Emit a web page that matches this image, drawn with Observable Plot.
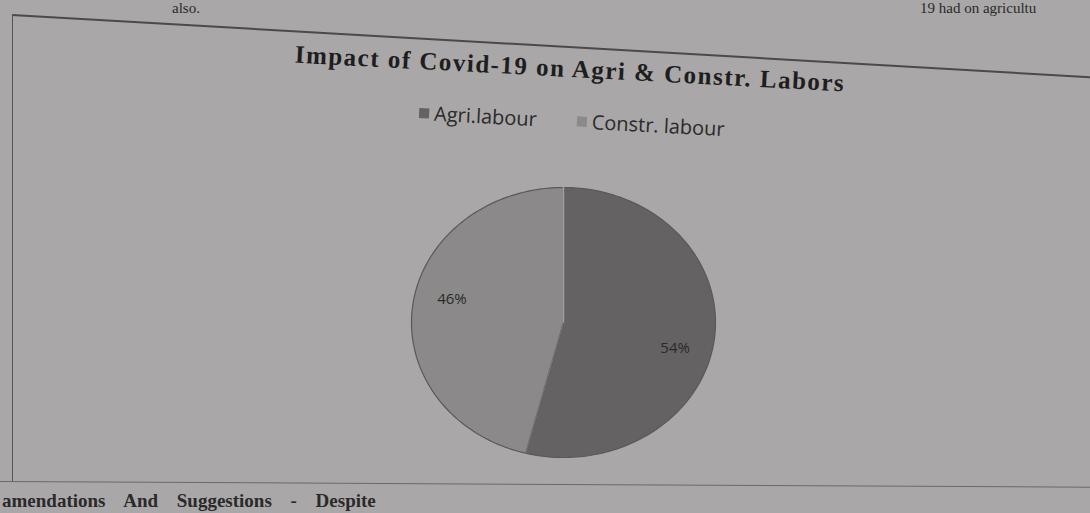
<!DOCTYPE html>
<html>
<head>
<meta charset="utf-8">
<script src="https://cdn.jsdelivr.net/npm/d3@7"></script>
<script src="https://cdn.jsdelivr.net/npm/@observablehq/plot@0.6"></script>
<style>
  html, body { margin: 0; padding: 0; }
  body { width: 1090px; height: 513px; overflow: hidden; background: #a9a7a7; position: relative; font-family: "Liberation Serif", serif; }
  .pagetext { position: absolute; font-family: "Liberation Serif", serif; color: #2a2a2a; white-space: nowrap; line-height: 1; }
  .frame-top { position: absolute; left: 12px; top: 14px; width: 1100px; height: 0; border-top: 2px solid #4a4a4a; transform-origin: 0 0; transform: rotate(3.3deg); }
  .frame-left { position: absolute; left: 12px; top: 14px; width: 0; height: 468px; border-left: 1.5px solid #555; }
  .frame-bottom { position: absolute; left: 0; top: 481px; width: 1100px; height: 0; border-top: 1.5px solid #6a6a6a; transform-origin: 0 0; transform: rotate(0.3deg); }
  #title { position: absolute; left: 0; top: 55px; width: 1140px; text-align: center; font-family: "Liberation Serif", serif; font-weight: bold; font-size: 25px; letter-spacing: 1.5px; color: #1e1e1e; transform-origin: 570px 15px; transform: rotate(3deg); }
  #legend { position: absolute; left: 0; top: 107px; width: 1144px; display: flex; justify-content: center; gap: 40px; font-family: "Open Sans", sans-serif; font-size: 20px; color: #2a2a2a; transform-origin: 570px 12px; transform: rotate(3deg); }
  #legend span.sw { display: inline-block; width: 10px; height: 10px; margin-right: 5px; vertical-align: 2px; }
  #chart { position: absolute; left: 0; top: 150px; }
</style>
</head>
<body>
<div class="pagetext" style="left:172px; top:1px; font-size:15px;">also.</div>
<div class="pagetext" style="left:920px; top:1px; font-size:15px;">19 had on agricultu</div>
<div class="pagetext" style="left:2px; top:491px; font-size:19px; font-weight:bold; word-spacing:14px;">amendations And Suggestions - Despite</div>
<div class="frame-top"></div>
<div class="frame-left"></div>
<div class="frame-bottom"></div>
<div id="title">Impact of Covid-19 on Agri &amp; Constr. Labors</div>
<div id="legend"></div>
<div id="chart"></div>
<script>
// Data
const categories = ["Agri.labour", "Constr. labour"];
const values = [54, 46];
const labels = ["54%", "46%"];
const colors = ["#646262", "#8b8989"];

// Legend
const legend = document.getElementById("legend");
categories.forEach((c, i) => {
  const item = document.createElement("div");
  item.innerHTML = `<span class="sw" style="background:${colors[i]}"></span>${c}`;
  legend.appendChild(item);
});

// Pie geometry derived from the values
const arcs = d3.pie().sort(null)(values);
const points = [];
const labelData = [];
arcs.forEach((a, i) => {
  const cat = categories[i];
  points.push({cat, x: 0, y: 0});
  const n = 120;
  for (let k = 0; k <= n; k++) {
    const t = a.startAngle + (a.endAngle - a.startAngle) * k / n;
    points.push({cat, x: Math.sin(t), y: Math.cos(t)});
  }
  points.push({cat, x: 0, y: 0});
  const mid = (a.startAngle + a.endAngle) / 2;
  labelData.push({cat, text: labels[i], x: 0.74 * Math.sin(mid), y: 0.74 * Math.cos(mid) - (i === 0 ? 0.1 : -0.08)});
});
const agriPts = points.filter(p => p.cat === categories[0]);

const chart = Plot.plot({
  width: 1090,
  height: 363,
  margin: 0,
  style: {background: "transparent", overflow: "visible"},
  x: {domain: [-1, 1], range: [411, 715], axis: null},
  y: {domain: [-1, 1], range: [307, 37], axis: null},
  color: {domain: categories, range: colors},
  marks: [
    Plot.line(points, {x: "x", y: "y", z: "cat", fill: "cat", stroke: "#5a5858", strokeWidth: 1.2}),
    Plot.line([agriPts[0], agriPts[1]], {x: "x", y: "y", stroke: "#a09e9e", strokeWidth: 1.5}),
    Plot.line([agriPts[agriPts.length - 2], agriPts[agriPts.length - 1]], {x: "x", y: "y", stroke: "#7a7878", strokeWidth: 1}),
    Plot.text(labelData, {x: "x", y: "y", text: "text", fontSize: 15, fill: "#2a2a2a", fontFamily: "Open Sans, sans-serif"})
  ]
});
document.getElementById("chart").appendChild(chart);
</script>
</body>
</html>
